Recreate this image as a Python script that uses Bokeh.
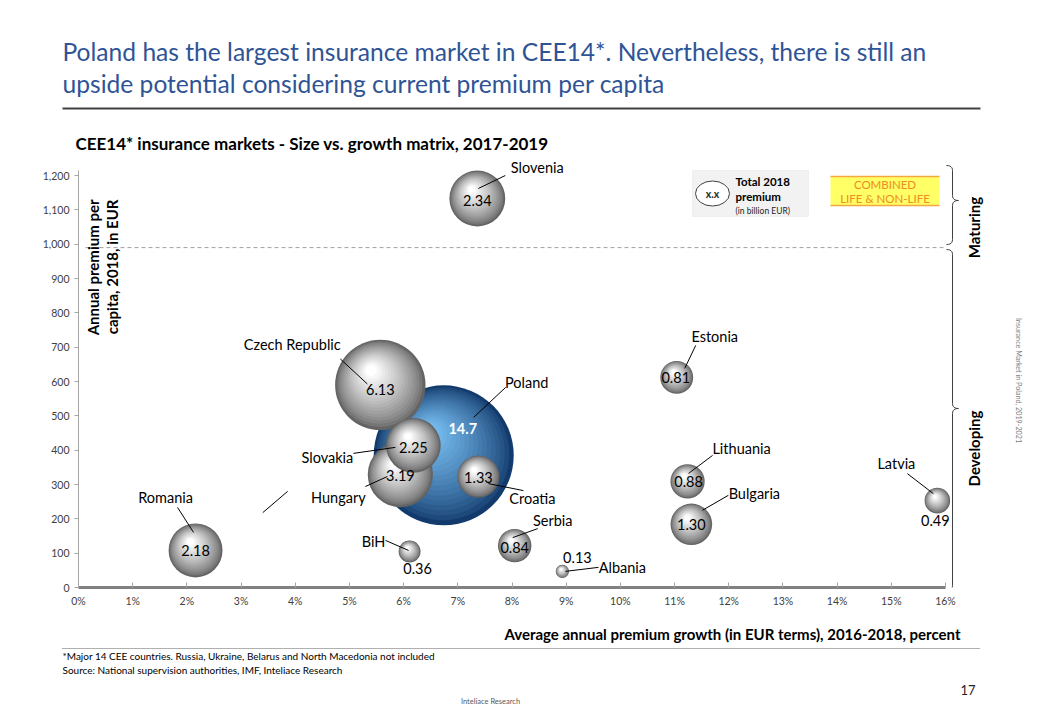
import math
from bokeh.plotting import figure
from bokeh.layouts import column
from bokeh.models import (ColumnDataSource, Label, LabelSet, BoxAnnotation,
                          Range1d, FixedTicker, NumeralTickFormatter)
from bokeh.core.properties import value
from bokeh.embed import file_html
from bokeh.resources import INLINE

# ---------------- data ----------------
countries = ["Slovenia", "Czech Republic", "Poland", "Slovakia", "Hungary", "Croatia",
             "BiH", "Serbia", "Albania", "Romania", "Estonia", "Lithuania", "Bulgaria", "Latvia"]
growth_pct = [7.36, 5.57, 6.74, 6.18, 5.94, 7.38, 6.11, 8.05, 8.93, 2.16, 11.04, 11.24, 11.31, 15.85]
premium_per_capita = [1133, 590, 385, 414, 329, 323, 105, 122, 47, 108, 612, 309, 184, 253]
total_premium_bn = [2.34, 6.13, 14.7, 2.25, 3.19, 1.33, 0.36, 0.84, 0.13, 2.18, 0.81, 0.88, 1.30, 0.49]
value_labels = ["2.34", "6.13", "14.7", "2.25", "3.19", "1.33", "0.36", "0.84", "0.13",
                "2.18", "0.81", "0.88", "1.30", "0.49"]
x_ticks = list(range(0, 17))
x_tick_labels = {t: f"{t}%" for t in x_ticks}
y_ticks = list(range(0, 1300, 100))
maturing_threshold = 990
stray_line = dict(x0=[3.40], y0=[218], x1=[3.86], y1=[280])

# ---------------- layout / styles ----------------
W = 1024
FONT = "Lato"
HEAD_H = 155          # page rows 0..155
AX_LEFT = 78          # page x of 0 %
AX_BOTTOM = 587       # page y of 0
MAIN_BB = 32
MAIN_H = AX_BOTTOM - HEAD_H + MAIN_BB
FOOT_TOP = HEAD_H + MAIN_H
FOOT_H = 712 - FOOT_TOP
XS = (945 - 78) / 16.0      # px per percent point
YS = (587 - 175) / 1200.0   # px per EUR
X_END = (W - AX_LEFT) / XS
Y_END = (AX_BOTTOM - HEAD_H) / YS


def px2x(px):
    return (px - AX_LEFT) / XS


def py2y(py):
    return (AX_BOTTOM - py) / YS


# style offsets (pixels, y downwards) for labels / leader lines
name_off = [(60, -31), (-88, -40), (83, -73), (-86, 12), (-62, 23), (54, 22), (-36, -10),
            (38, -25), (60, -4), (-30, -53), (38, -41), (54, -33), (63, -31), (-41, -37)]
lead_off = [((28, -23), (1, -10)), ((-40, -26), (-13, -1)), ((62, -68), (30, -38)),
            ((-60, 8), (-18, 2)), ((-35, 12), (-13, 2)), ((45, 14), (10, 7)),
            ((-24, -11), (-1, -1)), ((23, -17), (-2, -8)), ((36, -4), (3, 0)),
            ((-18, -43), (-2, -18)), ((19, -32), (8, -9)), ((25, -26), (1, -8)),
            ((37, -29), (11, -14)), ((-30, -27), (-4, -7))]
val_off = [(0, 2), (0, 5), (19, -27), (0, 2), (0, 1), (0, 1), (8, 17), (0, 2), (15, -14),
           (0, 0), (-1, 0), (1, 0), (0, 0), (-2, 20)]


def text_fig(height):
    f = figure(width=W, height=height, x_range=Range1d(0, W), y_range=Range1d(height, 0),
               output_backend="svg", toolbar_location=None, x_axis_type=None, y_axis_type=None,
               min_border=0, frame_align=False)
    f.outline_line_color = None
    f.grid.visible = False
    f.border_fill_color = "white"
    f.background_fill_color = "white"
    return f


def tlabel(f, text, x, y, size, color="#000000", style="normal", align="left",
           baseline="middle", angle=0.0):
    f.add_layout(Label(x=x, y=y, text=text, text_font=FONT, text_font_size=f"{size}px",
                       text_color=color, text_font_style=style, text_align=align,
                       text_baseline=baseline, angle=angle))


# ---------------- header ----------------
head = text_fig(HEAD_H)
tlabel(head, "Poland has the largest insurance market in CEE14*. Nevertheless, there is still an",
       62, 51, 24.6, color="#2f5496")
tlabel(head, "upside potential considering current premium per capita", 62, 83, 24.6, color="#2f5496")
head.segment(x0=[62], y0=[108], x1=[980], y1=[108], line_color="#404040", line_width=2)
tlabel(head, "CEE14* insurance markets - Size vs. growth matrix, 2017-2019", 75, 143, 17,
       style="bold")

# ---------------- main chart ----------------
p = figure(width=W, height=MAIN_H, x_range=Range1d(0, X_END), y_range=Range1d(0, Y_END),
           output_backend="svg", toolbar_location=None, frame_align=False,
           min_border_left=AX_LEFT, min_border_right=0, min_border_top=0, min_border_bottom=MAIN_BB)
p.outline_line_color = None
p.grid.visible = False
p.background_fill_color = "white"
p.border_fill_color = "white"

p.xaxis.bounds = (0, 16)
p.xaxis.ticker = FixedTicker(ticks=x_ticks)
p.xaxis.major_label_overrides = x_tick_labels
p.xaxis.axis_line_color = "#808080"
p.xaxis.axis_line_width = 3
p.xaxis.major_tick_in = 5
p.xaxis.major_tick_out = 0
p.xaxis.major_tick_line_color = "#a6a6a6"
p.xaxis.minor_tick_line_color = None
p.xaxis.major_label_text_font = FONT
p.xaxis.major_label_text_font_size = "10.5px"
p.xaxis.major_label_text_color = "#404040"
p.xaxis.major_label_standoff = 7

p.yaxis.bounds = (0, 1215)
p.yaxis.ticker = FixedTicker(ticks=y_ticks)
p.yaxis.formatter = NumeralTickFormatter(format="0,0")
p.yaxis.axis_line_color = "#a6a6a6"
p.yaxis.major_tick_in = 0
p.yaxis.major_tick_out = 4
p.yaxis.major_tick_line_color = "#a6a6a6"
p.yaxis.minor_tick_line_color = None
p.yaxis.major_label_text_font = FONT
p.yaxis.major_label_text_font_size = "10.5px"
p.yaxis.major_label_text_color = "#404040"
p.yaxis.major_label_standoff = 5

# maturing threshold
p.segment(x0=[px2x(85)], y0=[maturing_threshold], x1=[16], y1=[maturing_threshold],
          line_color="#a0a0a0", line_width=1, line_dash="4 3")

# ---------------- spheres ----------------
n = len(countries)
order = sorted(range(n), key=lambda i: -total_premium_bn[i])
N = 18
bx, by, bs, bc = [], [], [], []
for i in order:
    D = 2 * 18.26 * math.sqrt(total_premium_bn[i])
    blue = countries[i] == "Poland"
    for k in range(N):
        t = k / (N - 1)
        d = D * (1 - 0.88 * t)
        ox = -0.10 * D * t
        oy = 0.16 * D * t
        bx.append(growth_pct[i] + ox / XS)
        by.append(premium_per_capita[i] + oy / YS)
        bs.append(d)
        e = t ** 0.75
        if blue:
            r, g, b = 18 + 100 * e, 58 + 130 * e, 108 + 132 * e
        else:
            gv = 100 + 155 * e
            r, g, b = gv, gv, gv
        bc.append("#%02x%02x%02x" % (int(r), int(g), int(b)))
p.scatter(x="x", y="y", size="s", fill_color="c", line_color=None,
          source=ColumnDataSource(dict(x=bx, y=by, s=bs, c=bc)))

# leader lines
lx0 = [growth_pct[i] + lead_off[i][0][0] / XS for i in range(n)]
ly0 = [premium_per_capita[i] - lead_off[i][0][1] / YS for i in range(n)]
lx1 = [growth_pct[i] + lead_off[i][1][0] / XS for i in range(n)]
ly1 = [premium_per_capita[i] - lead_off[i][1][1] / YS for i in range(n)]
p.segment(x0=lx0, y0=ly0, x1=lx1, y1=ly1, line_color="#000000", line_width=1)
p.segment(x0="x0", y0="y0", x1="x1", y1="y1", line_color="#000000", line_width=1,
          source=ColumnDataSource(stray_line))

# country names
name_src = ColumnDataSource(dict(x=growth_pct, y=premium_per_capita, t=countries,
                                 dx=[o[0] for o in name_off], dy=[-o[1] for o in name_off]))
p.add_layout(LabelSet(x="x", y="y", text="t", x_offset="dx", y_offset="dy", source=name_src,
                      text_font=value(FONT), text_font_size="14.5px", text_color="#000000",
                      text_align="center", text_baseline="middle"))

# values
oth = [i for i in range(n) if countries[i] != "Poland"]
pol = [i for i in range(n) if countries[i] == "Poland"]
for idx, col, sty in ((oth, "#000000", "normal"), (pol, "#ffffff", "bold")):
    src = ColumnDataSource(dict(x=[growth_pct[i] for i in idx], y=[premium_per_capita[i] for i in idx],
                                t=[value_labels[i] for i in idx],
                                dx=[val_off[i][0] for i in idx], dy=[-val_off[i][1] for i in idx]))
    p.add_layout(LabelSet(x="x", y="y", text="t", x_offset="dx", y_offset="dy", source=src,
                          text_font=value(FONT), text_font_size="14.5px", text_color=col,
                          text_font_style=sty, text_align="center", text_baseline="middle"))


def lab(text, px, py, size, color="#000000", style="normal", align="left", baseline="middle",
        angle=0.0):
    p.add_layout(Label(x=px2x(px), y=py2y(py), text=text, text_font=FONT,
                       text_font_size=f"{size}px", text_color=color, text_font_style=style,
                       text_align=align, text_baseline=baseline, angle=angle))


# ---------------- legend boxes ----------------
p.add_layout(BoxAnnotation(left=px2x(692), right=px2x(808), top=py2y(170), bottom=py2y(216),
                           fill_color="#f2f2f2", fill_alpha=1, line_color="#d9d9d9", line_width=1,
                           level="underlay"))
p.ellipse(x=[px2x(712)], y=[py2y(193)], width=34 / XS, height=25 / YS, fill_color="white",
          line_color="#404040", line_width=1)
lab("x.x", 712, 193, 10.5, style="bold", align="center", color="#262626")
lab("Total 2018", 735, 181, 11.5, style="bold")
lab("premium", 735, 196, 11.5, style="bold")
lab("(in billion EUR)", 735, 210, 8.5, color="#262626")

p.add_layout(BoxAnnotation(left=px2x(830), right=px2x(939), top=py2y(176), bottom=py2y(205),
                           fill_color="#ffff66", fill_alpha=1, line_color=None, level="underlay"))
p.segment(x0=[px2x(830)] * 2, y0=[py2y(176), py2y(205)], x1=[px2x(939)] * 2,
          y1=[py2y(176), py2y(205)], line_color="#f4a640", line_width=1.5)
lab("COMBINED", 884.5, 184, 11.5, color="#f08a24", align="center")
lab("LIFE & NON-LIFE", 884.5, 198, 11.5, color="#f08a24", align="center")


# ---------------- braces ----------------
def brace(xl, w, top, tip, bot, r=5):
    xm, xt = xl + w / 2, xl + w
    pts = [(xl, top)]

    def quad(a, c, b, steps=6):
        for s in range(1, steps + 1):
            u = s / steps
            pts.append(((1 - u) ** 2 * a[0] + 2 * (1 - u) * u * c[0] + u ** 2 * b[0],
                        (1 - u) ** 2 * a[1] + 2 * (1 - u) * u * c[1] + u ** 2 * b[1]))
    quad((xl, top), (xm, top), (xm, top + r))
    pts.append((xm, tip - r))
    quad((xm, tip - r), (xm, tip), (xt, tip))
    quad((xt, tip), (xm, tip), (xm, tip + r))
    pts.append((xm, bot - r))
    quad((xm, bot - r), (xm, bot), (xl, bot))
    p.line(x=[px2x(a) for a, _ in pts], y=[py2y(b) for _, b in pts], line_color="#404040",
           line_width=1)


brace(946, 12, 165, 200, 244)
brace(946, 12, 249, 408, 590)
lab("Maturing", 973, 227, 15, style="bold", align="center", angle=math.pi / 2)
lab("Developing", 973, 448, 15, style="bold", align="center", angle=math.pi / 2)
lab("Insurance Market in Poland, 2019-2021", 1018, 380, 7.2, color="#808080", align="center",
    angle=-math.pi / 2)

# axis title (y)
lab("Annual premium per", 92, 199, 15, style="bold", align="right", angle=math.pi / 2)
lab("capita, 2018, in EUR", 111, 199, 15, style="bold", align="right", angle=math.pi / 2)

# ---------------- footer ----------------
foot = text_fig(FOOT_H)
fy = lambda py: py - FOOT_TOP
tlabel(foot, "Average annual premium growth (in EUR terms), 2016-2018, percent", 960, fy(633), 15,
       style="bold", align="right")
foot.segment(x0=[62], y0=[fy(648)], x1=[980], y1=[fy(648)], line_color="#606060", line_width=1,
             line_dash="1 1")
tlabel(foot, "*Major 14 CEE countries. Russia, Ukraine, Belarus and North Macedonia not included",
       62, fy(655), 10)
tlabel(foot, "Source: National supervision authorities, IMF, Inteliace Research", 62, fy(669), 10)
tlabel(foot, "17", 975, fy(689), 13, align="right", color="#262626")
tlabel(foot, "Inteliace Research", 490, fy(701), 7.5, align="center", color="#595959")

layout = column(head, p, foot, spacing=0)
open("out.html", "w").write(file_html(layout, INLINE))
